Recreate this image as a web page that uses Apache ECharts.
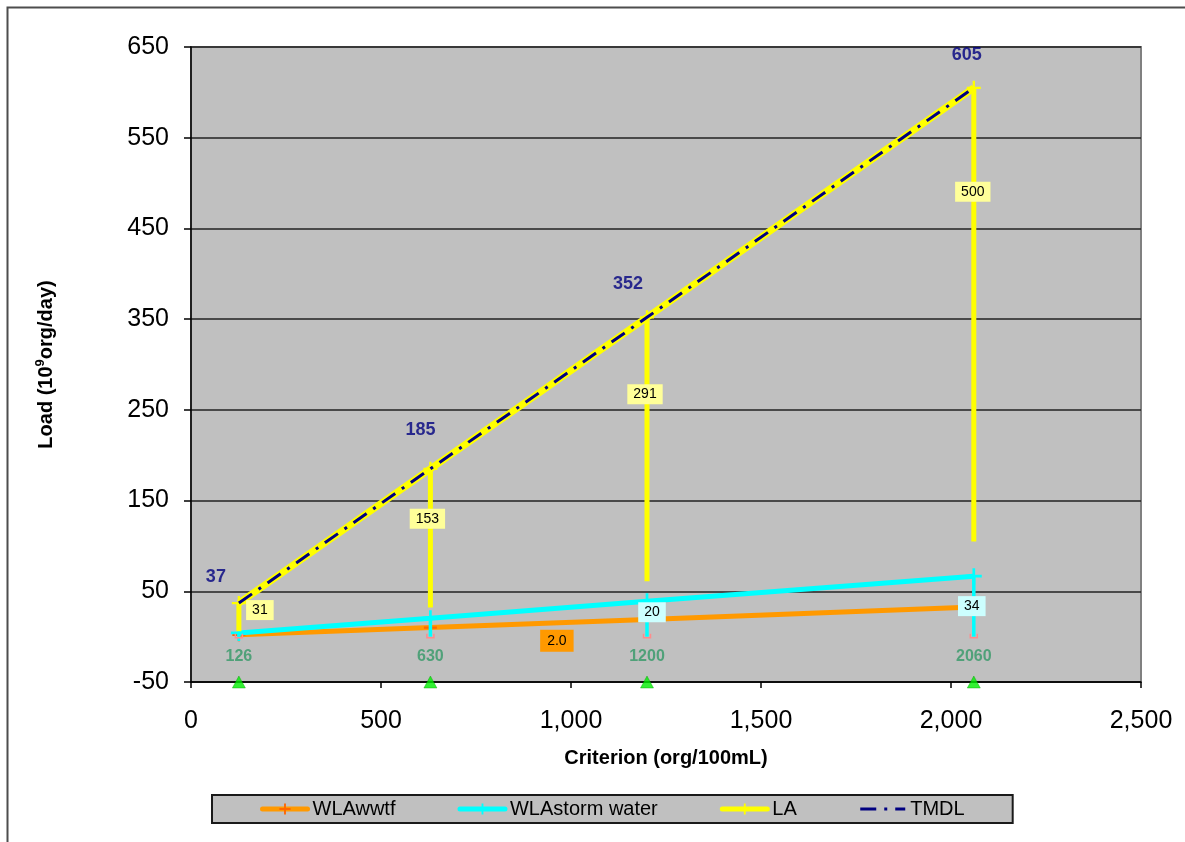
<!DOCTYPE html>
<html><head><meta charset="utf-8">
<script src="https://cdn.jsdelivr.net/npm/echarts@6/dist/echarts.min.js"></script>
<style>html,body{margin:0;padding:0;background:#fff}#c{width:1185px;height:842px}</style>
</head><body><div id="c"></div>
<script>
// ---- data ----
const criteria = [126, 630, 1200, 2060];
const wlaWwtf = [2.0, 10.0, 19.0, 32.7];
const wlaStorm = [2.1, 10.4, 20, 34];
const la = [31, 153, 291, 500];
const tmdl = [37, 185, 352, 605];
const yTickValues = [-50, 50, 150, 250, 350, 450, 550, 650];
const xTickValues = [0, 500, 1000, 1500, 2000, 2500];
const seriesNames = ['WLAwwtf', 'WLAstorm water', 'LA', 'TMDL'];
const xAxisTitle = 'Criterion (org/100mL)';

// which data labels are visible in the reference
const wwtfLabelShown = [true, false, false, false];
const stormLabelShown = [false, false, true, true];

// ---- styling (pixel nudges for labels) ----
const FONT = '"Liberation Sans", Arial, Helvetica, sans-serif';
const laLabelNudge = [[21, 7], [-3, 50], [-2, 77], [-1, 104]];
const stormLabelNudge = [[0, 0], [0, 0], [5, 11], [-2, 30]];
const tmdlLabelNudge = [[-23, -26], [-10, -39], [-19, -33], [-7, -33]];
const PLUS = 'path://M-1,-6 L1,-6 L1,-1 L6,-1 L6,1 L1,1 L1,6 L-1,6 L-1,1 L-6,1 L-6,-1 L-1,-1 Z';
const legendLineWidth = {'WLAwwtf': 5, 'WLAstorm water': 5, 'LA': 5, 'TMDL': 3};

const stormCum = criteria.map((c, i) => wlaWwtf[i] + wlaStorm[i]);

const chart = echarts.init(document.getElementById('c'), null, {renderer: 'canvas'});

const option = {
  animation: false,
  backgroundColor: '#ffffff',
  textStyle: {fontFamily: FONT},
  graphic: [{
    type: 'rect', left: 5, top: 5, z: -10, silent: true,
    shape: {x: 0, y: 0, width: 1400, height: 1000},
    style: {fill: 'none', stroke: '#4d4d4d', lineWidth: 2}
  }],
  grid: {
    left: 191, top: 47, width: 950, height: 635,
    outerBoundsMode: 'none',
    show: true, backgroundColor: '#C0C0C0', borderColor: '#808080', borderWidth: 2
  },
  legend: {
    data: seriesNames.map(n => n === 'TMDL'
      ? {name: n, itemStyle: {opacity: 0}, lineStyle: {width: legendLineWidth[n]}}
      : {name: n, lineStyle: {width: legendLineWidth[n], cap: 'round'}}),
    left: 212, top: 795,
    backgroundColor: '#C0C0C0', borderColor: '#1a1a1a', borderWidth: 2,
    padding: [3, 48], itemGap: 62, itemWidth: 45, itemHeight: 14,
    textStyle: {fontSize: 20, color: '#000', fontFamily: FONT, lineHeight: 22},
    selectedMode: false
  },
  xAxis: {
    type: 'value', min: 0, max: 2500, interval: 500,
    name: xAxisTitle, nameLocation: 'middle', nameGap: 66,
    nameTextStyle: {fontSize: 20, fontWeight: 'bold', color: '#000', fontFamily: FONT},
    axisLine: {show: true, onZero: false, lineStyle: {color: '#000', width: 1.5}},
    axisTick: {show: true, length: 6, lineStyle: {color: '#000', width: 1.5}},
    axisLabel: {fontSize: 25, color: '#000', margin: 27, fontFamily: FONT,
      formatter: v => v.toLocaleString('en-US')},
    splitLine: {show: false}
  },
  yAxis: {
    type: 'value', min: -50, max: 650,
    name: '{a|Load (10}{s|9}{a|org/day)}', nameLocation: 'middle', nameGap: 133,
    nameTextStyle: {
      fontWeight: 'bold', color: '#000', fontFamily: FONT,
      rich: {
        a: {fontSize: 20, fontWeight: 'bold', fontFamily: FONT, color: '#000', lineHeight: 24},
        s: {fontSize: 13, fontWeight: 'bold', fontFamily: FONT, color: '#000', lineHeight: 16, verticalAlign: 'top'}
      }
    },
    axisLine: {show: true, onZero: false, lineStyle: {color: '#000', width: 1.5}},
    axisTick: {show: true, length: 7, customValues: yTickValues, lineStyle: {color: '#000', width: 1.5}},
    axisLabel: {fontSize: 25, color: '#000', margin: 22, fontFamily: FONT, customValues: yTickValues},
    splitLine: {show: true, lineStyle: {color: '#222', width: 1.5}}
  },
  series: [
    {
      name: 'WLAwwtf', type: 'line', z: 3,
      data: criteria.map((c, i) => ({
        value: [c, wlaWwtf[i]],
        label: {show: wwtfLabelShown[i]}
      })),
      symbol: PLUS, symbolSize: 13,
      itemStyle: {color: '#FF6600'},
      lineStyle: {color: '#FF9900', width: 5},
      label: {
        position: 'inside', offset: [318, 6],
        formatter: p => p.value[1].toFixed(1),
        fontSize: 14, color: '#000', fontFamily: FONT,
        backgroundColor: '#FF9900', padding: [4, 7]
      }
    },
    {
      name: 'WLAstorm water', type: 'line', z: 4,
      data: criteria.map((c, i) => [c, stormCum[i]]),
      symbol: PLUS, symbolSize: 16,
      itemStyle: {color: '#00FFFF'},
      lineStyle: {color: '#00FFFF', width: 5}
    },
    {
      name: 'storm bars', type: 'custom', z: 5,
      data: criteria.map((c, i) => [c, stormCum[i], 0, wlaStorm[i]]),
      encode: {x: 0, y: [1, 2]},
      renderItem: (params, api) => {
        const i = params.dataIndex;
        const x = api.value(0);
        const top = api.coord([x, api.value(1)]);
        const bot = api.coord([x, api.value(2)]);
        const children = [
          {type: 'line', shape: {x1: top[0], y1: top[1], x2: bot[0], y2: bot[1]},
           style: {stroke: '#00FFFF', lineWidth: 3.5}},
          {type: 'polyline', shape: {points: [[bot[0] - 3.5, bot[1] - 3], [bot[0] - 3.5, bot[1] + 1], [bot[0] + 3.5, bot[1] + 1], [bot[0] + 3.5, bot[1] - 3]]},
           style: {stroke: '#FF8C8C', lineWidth: 1.5, fill: 'none'}}
        ];
        if (stormLabelShown[i]) {
          const n = stormLabelNudge[i];
          children.push({type: 'text', x: top[0] + n[0], y: top[1] + n[1], z2: 20,
            style: {text: String(api.value(3)), fill: '#000', fontSize: 14, fontFamily: FONT,
              align: 'center', verticalAlign: 'middle', backgroundColor: '#CCFFFF', padding: [3, 6]}});
        }
        return {type: 'group', children};
      }
    },
    {
      name: 'LA', type: 'line', z: 6,
      data: criteria.map((c, i) => [c, tmdl[i]]),
      symbol: PLUS, symbolSize: 14,
      itemStyle: {color: '#FFFF00'},
      lineStyle: {color: '#FFFF00', width: 7}
    },
    {
      name: 'LA bars', type: 'custom', z: 6,
      data: criteria.map((c, i) => [c, tmdl[i], tmdl[i] - la[i], la[i]]),
      encode: {x: 0, y: [1, 2]},
      renderItem: (params, api) => {
        const i = params.dataIndex;
        const x = api.value(0);
        const top = api.coord([x, api.value(1)]);
        const bot = api.coord([x, api.value(2)]);
        const n = laLabelNudge[i];
        return {type: 'group', children: [
          {type: 'line', shape: {x1: top[0], y1: top[1], x2: bot[0], y2: bot[1]},
           style: {stroke: '#FFFF00', lineWidth: 5}},
          {type: 'text', x: top[0] + n[0], y: top[1] + n[1], z2: 20,
           style: {text: String(api.value(3)), fill: '#000', fontSize: 14, fontFamily: FONT,
             align: 'center', verticalAlign: 'middle', backgroundColor: '#FFFF99', padding: [3, 6]}}
        ]};
      }
    },
    {
      name: 'TMDL', type: 'line', z: 7,
      data: criteria.map((c, i) => [c, tmdl[i]]),
      symbol: 'none',
      itemStyle: {color: '#000080'},
      lineStyle: {color: '#000080', width: 3, type: [16, 8, 3, 8], cap: 'butt'}
    },
    {
      name: 'TMDL labels', type: 'scatter', z: 8,
      data: criteria.map((c, i) => ({
        value: [c, tmdl[i]],
        label: {offset: tmdlLabelNudge[i]}
      })),
      symbolSize: 0,
      label: {show: true, position: 'inside', formatter: p => String(p.value[1]),
        fontSize: 18, fontWeight: 'bold', color: '#000080', fontFamily: FONT}
    },
    {
      name: 'criteria', type: 'scatter', z: 9, clip: false,
      data: criteria.map(c => [c, -50]),
      symbol: 'triangle', symbolSize: [13, 12],
      itemStyle: {color: '#00EE00', borderColor: '#00A000', borderWidth: 0.5},
      label: {show: true, position: 'top', distance: 11, formatter: p => String(p.value[0]),
        fontSize: 16, fontWeight: 'bold', color: '#339966', fontFamily: FONT}
    }
  ]
};
chart.setOption(option);
</script>
</body></html>
